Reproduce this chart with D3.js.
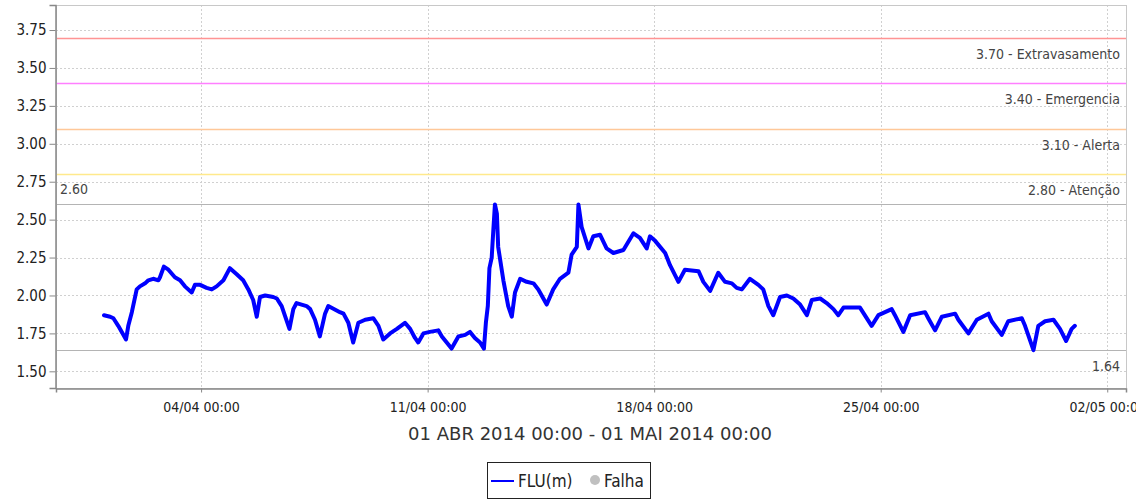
<!DOCTYPE html>
<html>
<head>
<meta charset="utf-8">
<script src="https://cdn.jsdelivr.net/npm/d3@7"></script>
<style>
  body { margin: 0; background: #fff; }
  svg { display: block; }
  .lbl { font-family: "DejaVu Sans Condensed", "Liberation Sans Narrow", "DejaVu Sans", sans-serif; font-stretch: condensed; }
</style>
</head>
<body>
<svg id="svg" width="1136" height="499"></svg>
<script>
// dias desde 01/04/2014 00:00 e nivel (m)
var dias = [0.00,0.19,0.29,0.44,0.68,0.75,0.86,1.01,1.11,1.27,1.37,1.52,1.68,1.73,1.85,1.99,2.19,2.35,2.50,2.71,
  2.81,2.97,3.17,3.33,3.48,3.69,3.89,4.10,4.30,4.46,4.61,4.72,4.82,4.98,5.23,5.34,5.49,5.73,5.85,5.95,
  6.26,6.37,6.52,6.67,6.83,6.93,7.29,7.40,7.55,7.70,7.86,8.07,8.32,8.48,8.63,8.84,9.05,9.30,9.46,9.61,
  9.71,9.87,10.07,10.33,10.44,10.59,10.74,10.95,11.16,11.31,11.46,11.62,11.74,11.80,11.86,11.91,11.98,12.03,12.08,12.14,
  12.18,12.34,12.49,12.60,12.70,12.86,13.06,13.27,13.42,13.68,13.88,14.09,14.35,14.45,14.61,14.66,14.76,14.97,15.12,15.33,
  15.53,15.74,16.05,16.36,16.56,16.77,16.87,17.03,17.34,17.49,17.75,17.95,18.37,18.52,18.73,18.98,19.19,19.40,19.55,19.71,
  19.96,20.22,20.37,20.53,20.68,20.89,21.10,21.30,21.51,21.72,21.87,22.13,22.33,22.54,22.69,22.85,23.16,23.36,23.72,23.93,
  24.34,24.44,24.70,24.91,25.37,25.47,25.68,25.89,26.30,26.40,26.71,26.97,27.33,27.43,27.74,27.94,28.36,28.46,28.72,28.87,
  29.08,29.34,29.54,29.73,29.90,30.00];
var nivel = [1.87,1.86,1.85,1.80,1.71,1.80,1.89,2.04,2.06,2.08,2.10,2.11,2.10,2.12,2.19,2.17,2.12,2.10,2.06,2.02,
  2.07,2.07,2.05,2.04,2.06,2.10,2.18,2.14,2.10,2.04,1.97,1.86,1.99,2.00,1.99,1.98,1.93,1.78,1.91,1.95,
  1.93,1.91,1.84,1.73,1.88,1.93,1.89,1.88,1.82,1.69,1.82,1.84,1.85,1.80,1.71,1.75,1.78,1.82,1.78,1.72,
  1.69,1.75,1.76,1.77,1.73,1.69,1.65,1.73,1.74,1.76,1.72,1.69,1.65,1.82,1.93,2.18,2.25,2.43,2.60,2.54,
  2.32,2.10,1.93,1.86,2.02,2.11,2.09,2.08,2.04,1.94,2.04,2.11,2.15,2.27,2.32,2.60,2.45,2.31,2.39,2.40,
  2.31,2.28,2.30,2.41,2.38,2.31,2.39,2.36,2.28,2.20,2.09,2.17,2.16,2.09,2.03,2.15,2.09,2.08,2.05,2.04,
  2.11,2.07,2.04,1.93,1.87,1.99,2.00,1.98,1.94,1.87,1.97,1.98,1.95,1.91,1.87,1.92,1.92,1.92,1.80,1.87,
  1.91,1.87,1.76,1.87,1.89,1.85,1.77,1.86,1.88,1.84,1.75,1.84,1.88,1.83,1.74,1.83,1.85,1.80,1.64,1.80,
  1.83,1.84,1.78,1.70,1.78,1.80];

var yTicks = [1.50, 1.75, 2.00, 2.25, 2.50, 2.75, 3.00, 3.25, 3.50, 3.75];
var xTicks = ['2014-04-04', '2014-04-11', '2014-04-18', '2014-04-25', '2014-05-02'];

var cotaValores = [3.70, 3.40, 3.10, 2.80];
var cotaNomes = ['Extravasamento', 'Emergencia', 'Alerta', 'Atenção'];
var cotaCores = ['#ff9494', '#ff7fff', '#ffc899', '#ffe98c'];

var maxNivel = 2.60;
var minNivel = 1.64;

var inicio = new Date(2014, 3, 1, 0, 0);

var svg = d3.select('svg');

var pLeft = 56, pRight = 1126, pTop = 5, pBottom = 388;

var x = d3.scaleTime()
    .domain([new Date(2014, 2, 30, 12, 24), new Date(2014, 4, 2, 13, 55)])
    .range([pLeft, pRight]);

var y = d3.scaleLinear()
    .domain([1.39, 3.915])
    .range([pBottom, pTop]);

var parse = d3.timeParse('%Y-%m-%d');
var xTickDates = xTicks.map(parse);

// grid
svg.append('g')
    .selectAll('line')
    .data(yTicks)
    .enter()
    .append('line')
    .attr('x1', pLeft).attr('x2', pRight)
    .attr('y1', function(d){ return Math.round(y(d)) + 0.5; })
    .attr('y2', function(d){ return Math.round(y(d)) + 0.5; })
    .attr('stroke', '#d0d0d0')
    .attr('stroke-dasharray', '2,2');

svg.append('g')
    .selectAll('line')
    .data(xTickDates)
    .enter()
    .append('line')
    .attr('x1', function(d){ return Math.round(x(d)) + 0.5; })
    .attr('x2', function(d){ return Math.round(x(d)) + 0.5; })
    .attr('y1', pTop).attr('y2', pBottom)
    .attr('stroke', '#d0d0d0')
    .attr('stroke-dasharray', '2,2');

// cotas
cotaValores.forEach(function(v, i){
    var yy = Math.round(y(v)) + 0.5;
    svg.append('line')
        .attr('x1', pLeft).attr('x2', pRight)
        .attr('y1', yy).attr('y2', yy)
        .attr('stroke', cotaCores[i])
        .attr('stroke-width', 1.5);
    svg.append('text')
        .attr('class', 'lbl')
        .attr('x', 1120).attr('y', yy + 20)
        .attr('text-anchor', 'end')
        .attr('font-size', 14)
        .attr('fill', '#444')
        .text(v.toFixed(2) + ' - ' + cotaNomes[i]);
});

[maxNivel, minNivel].forEach(function(v){
    var yy = Math.round(y(v)) + 0.5;
    svg.append('line')
        .attr('x1', pLeft).attr('x2', pRight)
        .attr('y1', yy).attr('y2', yy)
        .attr('stroke', '#b4b4b4')
        .attr('stroke-width', 1.2);
});

svg.append('text')
    .attr('class', 'lbl')
    .attr('x', 60).attr('y', y(maxNivel) - 10)
    .attr('font-size', 14).attr('fill', '#444')
    .text(maxNivel.toFixed(2));

svg.append('text')
    .attr('class', 'lbl')
    .attr('x', 1120).attr('y', y(minNivel) + 21)
    .attr('text-anchor', 'end')
    .attr('font-size', 14).attr('fill', '#444')
    .text(minNivel.toFixed(2));

// series
var pontos = dias.map(function(d, i){
    return { t: new Date(inicio.getTime() + d * 864e5), v: nivel[i] };
});

var line = d3.line()
    .x(function(d){ return x(d.t); })
    .y(function(d){ return y(d.v); });

svg.append('path')
    .datum(pontos)
    .attr('d', line)
    .attr('fill', 'none')
    .attr('stroke', '#0000ff')
    .attr('stroke-width', 4)
    .attr('stroke-linejoin', 'round')
    .attr('stroke-linecap', 'round');

// frame
svg.append('rect')
    .attr('x', pLeft + 0.5).attr('y', pTop + 0.5)
    .attr('width', pRight - pLeft).attr('height', pBottom - pTop)
    .attr('fill', 'none')
    .attr('stroke', '#c8c8c8');

// axes
var yAxis = svg.append('g')
    .attr('transform', 'translate(' + (pLeft - 0.5) + ',0)')
    .call(d3.axisLeft(y).tickValues(yTicks).tickFormat(d3.format('.2f')).tickSize(6).tickPadding(3));

var xAxis = svg.append('g')
    .attr('transform', 'translate(0,' + (pBottom + 0.5) + ')')
    .call(d3.axisBottom(x).tickValues(xTickDates).tickFormat(d3.timeFormat('%d/%m %H:%M')).tickSize(4).tickPadding(10));

[yAxis, xAxis].forEach(function(g){
    g.select('.domain').attr('stroke', '#888').attr('stroke-width', 1.5);
    g.selectAll('.tick line').attr('stroke', '#888');
    g.selectAll('text')
        .attr('class', 'lbl')
        .attr('font-size', 14)
        .attr('fill', '#222');
});
yAxis.selectAll('text').attr('font-size', 15);

svg.append('text')
    .attr('x', 590).attr('y', 440)
    .attr('text-anchor', 'middle')
    .attr('font-family', 'DejaVu Sans, sans-serif')
    .attr('font-size', 18)
    .attr('fill', '#333')
    .text('01 ABR 2014 00:00 - 01 MAI 2014 00:00');

// legend
var leg = svg.append('g');
leg.append('rect')
    .attr('x', 487.5).attr('y', 462.5)
    .attr('width', 163).attr('height', 36)
    .attr('fill', '#fff')
    .attr('stroke', '#222');
leg.append('line')
    .attr('x1', 491).attr('x2', 514)
    .attr('y1', 481).attr('y2', 481)
    .attr('stroke', '#0000ff').attr('stroke-width', 2);
leg.append('text')
    .attr('class', 'lbl')
    .attr('x', 518).attr('y', 487)
    .attr('font-size', 17).attr('fill', '#222')
    .text('FLU(m)');
leg.append('circle')
    .attr('cx', 595).attr('cy', 480).attr('r', 5)
    .attr('fill', '#c0c0c0');
leg.append('text')
    .attr('class', 'lbl')
    .attr('x', 604).attr('y', 487)
    .attr('font-size', 17).attr('fill', '#222')
    .text('Falha');
</script>
</body>
</html>
